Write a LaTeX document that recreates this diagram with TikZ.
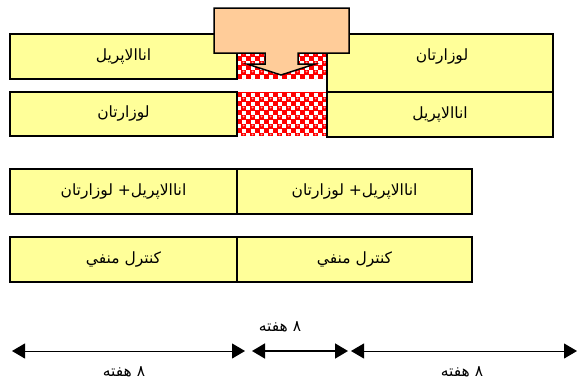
\documentclass[tikz,border=0pt]{standalone}
\usepackage{fontspec}
\usetikzlibrary{arrows.meta}
\TeXXeTstate=1
\newfontfamily\arabicfont[Script=Arabic]{DejaVu Sans}
\definecolor{boxyellow}{HTML}{FFFF99}
\definecolor{boxorange}{HTML}{FFCC99}
\definecolor{patred}{HTML}{FF0000}
\newcommand{\ar}[1]{\arabicfont\beginR #1\endR}
\tikzset{
  ybox/.style={draw=black, line width=1.5pt, fill=boxyellow, inner sep=0pt,
    font=\fontsize{15.5}{18}\selectfont},
  lbl/.style={inner sep=0pt, font=\fontsize{15.5}{18}\selectfont},
  dimarrow/.style={line width=1pt, {Triangle[length=13pt,width=15pt]}-{Triangle[length=13pt,width=15pt]}},
}
\newcommand{\checkerfill}[4]{%
  \begin{scope}
  \clip (#1,#2) rectangle (#3,#4);
  \fill[patred] (#1,#2) rectangle (#3,#4);
  \foreach \xx in {237,246,...,335}{
    \foreach \yy in {34,43,...,145}{
      \fill[white] (\xx,\yy) rectangle ++(4,4);
      \fill[white] (\xx+4.5,\yy+4.5) rectangle ++(4,4);
      \fill[white!60!patred] (\xx+6.7,\yy+1.5) circle (1);
    }
  }
  \end{scope}}
\begin{document}
\begin{tikzpicture}[x=1pt,y=-1pt]
\useasboundingbox (0,0) rectangle (577,383);
% checkered regions
\checkerfill{237}{34}{327}{79}
\checkerfill{237}{92}{327}{136}
% rows 1 and 2
\node[ybox, minimum width=227pt, minimum height=45pt] (l1) at (123.5,56.5) {\ar{اناالاپريل}};
\node[ybox, minimum width=227pt, minimum height=44pt] (l2) at (123.5,114) {\ar{لوزارتان}};
\node[ybox, minimum width=226pt, minimum height=58pt] (r1) at (440,63) {};
\node[lbl] at (442,57) {\ar{لوزارتان}};
\node[ybox, minimum width=226pt, minimum height=45pt] (r2) at (440,114.5) {\ar{اناالاپريل}};
% orange block with notch
\draw[line width=1.5pt, fill=boxorange, line join=miter]
  (214,8) -- (349,8) -- (349,53) -- (298,53) -- (298,64) -- (315,64)
  -- (281,75) -- (247,64) -- (265,64) -- (265,53) -- (214,53) -- cycle;
% rows 3 and 4
\node[ybox, minimum width=227pt, minimum height=45pt] (a3) at (123.5,191.5) {\ar{اناالاپريل+ لوزارتان}};
\node[ybox, minimum width=235pt, minimum height=45pt] (b3) at (354.5,191.5) {\ar{اناالاپريل+ لوزارتان}};
\node[ybox, minimum width=227pt, minimum height=45pt] (a4) at (123.5,259.5) {\ar{کنترل منفي}};
\node[ybox, minimum width=235pt, minimum height=45pt] (b4) at (354.5,259.5) {\ar{کنترل منفي}};
% timeline
\coordinate (t0) at (12,351);
\coordinate (t1) at (245,351);
\coordinate (t2) at (252,351);
\coordinate (t3) at (348,351);
\coordinate (t4) at (351,351);
\coordinate (t5) at (577,351);
\draw[dimarrow] (t0) -- (t1);
\draw[dimarrow, line width=1.7pt] (t2) -- (t3);
\draw[dimarrow] (t4) -- (t5);
\node[lbl] (w1) at (124,372) {\ar{٨ هفته}};
\node[lbl] (w2) at (280,327) {\ar{٨ هفته}};
\node[lbl] (w3) at (462,372) {\ar{٨ هفته}};
\end{tikzpicture}
\end{document}
